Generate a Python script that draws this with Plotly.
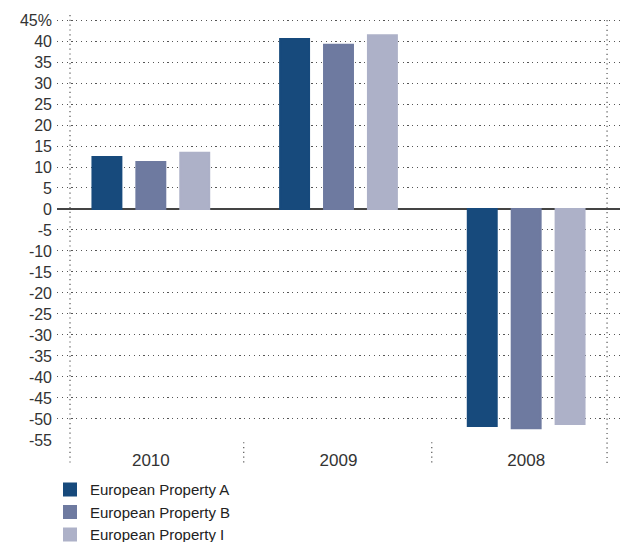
import plotly.graph_objects as go

categories = ["2010", "2009", "2008"]
series_names = ["European Property A", "European Property B", "European Property I"]
values_a = [12.4, 40.5, -51.7]
values_b = [11.2, 39.1, -52.2]
values_i = [13.4, 41.4, -51.2]
colors = ["#174a7c", "#6e7aa0", "#adb1c8"]
ytick_vals = list(range(45, -60, -5))
ytick_text = ["45%"] + [str(v) for v in ytick_vals[1:]]

FONT = "Liberation Sans, Arial, sans-serif"
DOT = "1.2px,3.6px"
GRID = "#555555"

fig = go.Figure()
for name, vals, col in zip(series_names, [values_a, values_b, values_i], colors):
    fig.add_trace(go.Bar(x=categories, y=vals, name=name,
                         marker=dict(color=col, line=dict(width=2, color=col))))

shape_line = dict(color=GRID, width=1.2, dash=DOT)
shapes = [
    dict(type="line", xref="paper", yref="paper", x0=0.0231, x1=0.0231, y0=1.0, y1=-0.0588, line=shape_line, layer="below"),
    dict(type="line", xref="paper", yref="paper", x0=0.977, x1=0.977, y0=0.988, y1=-0.054, line=shape_line, layer="below"),
    dict(type="line", xref="x", yref="paper", x0=0.495, x1=0.495, y0=-0.005, y1=-0.054, line=shape_line, layer="below"),
    dict(type="line", xref="x", yref="paper", x0=1.497, x1=1.497, y0=-0.005, y1=-0.054, line=shape_line, layer="below"),
]

fig.update_layout(
    width=623, height=534,
    margin=dict(l=49, r=11, t=7, b=102, autoexpand=False),
    paper_bgcolor="white", plot_bgcolor="white",
    barmode="group", bargap=0.298, bargroupgap=0.341,
    font=dict(family=FONT, color="#333333", size=16),
    shapes=shapes,
    showlegend=True,
    legend=dict(x=-0.0124, xanchor="left", y=-0.078, yanchor="top", orientation="v",
                font=dict(family=FONT, size=15, color="#222222"), tracegroupgap=0,
                bgcolor="rgba(0,0,0,0)"),
    xaxis=dict(showgrid=False, showline=False, zeroline=False, ticks="",
               range=[-0.5, 2.5], tickfont=dict(family=FONT, size=17, color="#333333"),
               ticklabelstandoff=8),
    yaxis=dict(range=[-55.02, 46.2], tickvals=ytick_vals, ticktext=ytick_text,
               showgrid=True, gridcolor=GRID, gridwidth=1.2, griddash=DOT,
               zeroline=True, zerolinecolor="#444444", zerolinewidth=2,
               showline=False, ticks="", ticklabelstandoff=4,
               tickfont=dict(family=FONT, size=16, color="#333333")),
)

fig.write_html("out.html")
